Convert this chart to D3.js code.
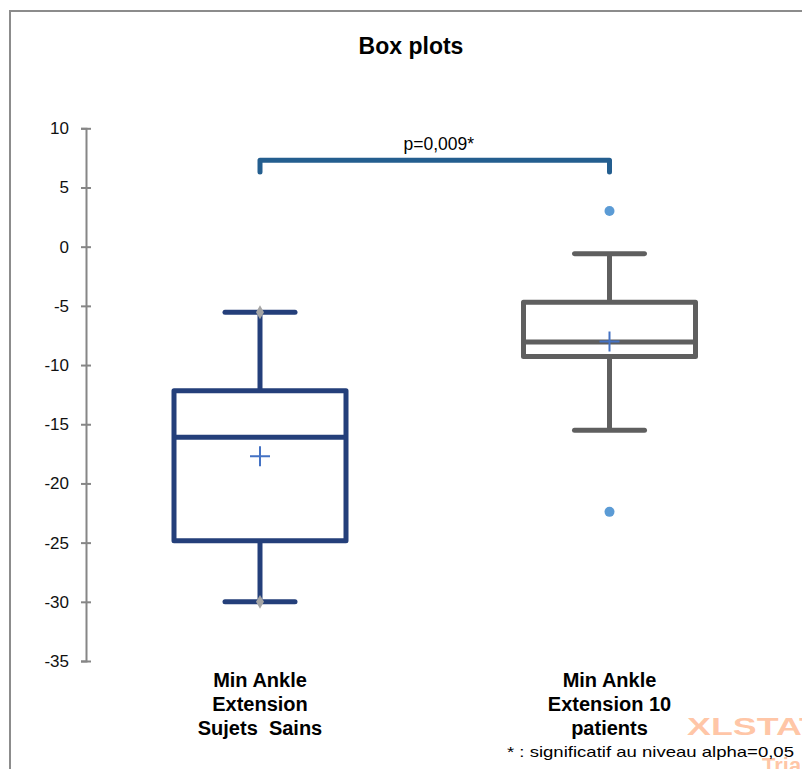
<!DOCTYPE html>
<html>
<head>
<meta charset="utf-8">
<script src="https://cdn.jsdelivr.net/npm/d3@7"></script>
<style>
  html, body { margin: 0; padding: 0; background: #fff; }
  svg { display: block; font-family: Arial, "Liberation Sans", sans-serif; }
</style>
</head>
<body>
<svg id="chart" width="802" height="769"></svg>
<script>
// ---- data ----
const categories = ["Min Ankle Extension Sujets Sains", "Min Ankle Extension 10 patients"];
const labelLines = [["Min Ankle", "Extension", "Sujets  Sains"], ["Min Ankle", "Extension 10", "patients"]];
const q1Values = [-24.85, -9.27];
const medianValues = [-16.1, -8.05];
const q3Values = [-12.16, -4.7];
const whiskerLow = [-30.0, -15.5];
const whiskerHigh = [-5.54, -0.59];
const meanValues = [-17.7, -8.0];
const minMaxPoints = [[-30.0, -5.54], []];
const outlierPoints = [[], [3.02, -22.4]];
const yTicks = [10, 5, 0, -5, -10, -15, -20, -25, -30, -35];
const boxColors = ["#243F7A", "#5F5F5F"];
const titleText = "Box plots";
const pText = "p=0,009*";
const bracketValues = [7.3, 6.3];
const footnoteText = "* : significatif au niveau alpha=0,05";

// ---- drawing ----
const svg = d3.select("#chart");

// outer frame
svg.append("rect")
  .attr("x", 10).attr("y", 11).attr("width", 900).attr("height", 900)
  .attr("fill", "none").attr("stroke", "#8c8c8c").attr("stroke-width", 2);

const y = d3.scaleLinear().domain([-35, 10]).range([661, 128.3]);
const x = d3.scalePoint().domain(categories).range([260, 609.5]);

// title
svg.append("text").attr("x", 411).attr("y", 54)
  .attr("text-anchor", "middle").attr("font-weight", "bold").attr("font-size", 23)
  .attr("fill", "#000").text(titleText);

// y axis
const axisG = svg.append("g").attr("transform", "translate(86,0)")
  .call(d3.axisLeft(y).tickValues(yTicks).tickSize(5).tickFormat(d3.format("d")));
axisG.select(".domain").attr("stroke", "#868686").attr("stroke-width", 2);
axisG.selectAll(".tick line").attr("stroke", "#868686").attr("stroke-width", 2)
  .attr("x1", 5).attr("x2", -5);
axisG.selectAll(".tick text").attr("x", -17).attr("font-size", 17)
  .attr("font-family", "Arial, 'Liberation Sans', sans-serif").attr("fill", "#111")
  .text(d => d < 0 ? "-" + Math.abs(d) : d);

const boxHalf = 86, capHalf = 35, lw = 5;

categories.forEach((c, i) => {
  const cx = x(c);
  const col = boxColors[i];
  const g = svg.append("g");
  // whiskers
  g.append("line").attr("x1", cx).attr("x2", cx)
    .attr("y1", y(q3Values[i])).attr("y2", y(whiskerHigh[i]))
    .attr("stroke", col).attr("stroke-width", lw);
  g.append("line").attr("x1", cx).attr("x2", cx)
    .attr("y1", y(q1Values[i])).attr("y2", y(whiskerLow[i]))
    .attr("stroke", col).attr("stroke-width", lw);
  [whiskerHigh[i], whiskerLow[i]].forEach(v => {
    g.append("line").attr("x1", cx - capHalf).attr("x2", cx + capHalf)
      .attr("y1", y(v)).attr("y2", y(v))
      .attr("stroke", col).attr("stroke-width", lw).attr("stroke-linecap", "round");
  });
  // box
  g.append("rect").attr("x", cx - boxHalf).attr("width", boxHalf * 2)
    .attr("y", y(q3Values[i])).attr("height", y(q1Values[i]) - y(q3Values[i]))
    .attr("fill", "none").attr("stroke", col).attr("stroke-width", lw)
    .attr("stroke-linejoin", "round");
  // median
  g.append("line").attr("x1", cx - boxHalf).attr("x2", cx + boxHalf)
    .attr("y1", y(medianValues[i])).attr("y2", y(medianValues[i]))
    .attr("stroke", col).attr("stroke-width", lw);
  // mean plus
  const my = y(meanValues[i]);
  g.append("path").attr("d", `M${cx - 10},${my}H${cx + 10}M${cx},${my - 10}V${my + 10}`)
    .attr("stroke", "#4472C4").attr("stroke-width", 2).attr("fill", "none");
  // min/max markers
  minMaxPoints[i].forEach(v => {
    g.append("path").attr("d", d3.symbol(d3.symbolDiamond, 55)())
      .attr("transform", `translate(${cx},${y(v)})`).attr("fill", "#A5A5A5");
  });
  // outliers
  outlierPoints[i].forEach(v => {
    g.append("circle").attr("cx", cx).attr("cy", y(v)).attr("r", 5).attr("fill", "#5B9BD5");
  });
  // category label
  const t = svg.append("text").attr("text-anchor", "middle").attr("font-weight", "bold")
    .attr("font-size", 20).attr("fill", "#000");
  labelLines[i].forEach((ln, k) => {
    t.append("tspan").attr("x", cx).attr("y", 687 + k * 24).attr("xml:space", "preserve").text(ln);
  });
});

// significance bracket
const bx1 = x(categories[0]), bx2 = x(categories[1]);
svg.append("path")
  .attr("d", `M${bx1},${y(bracketValues[1])}V${y(bracketValues[0])}H${bx2}V${y(bracketValues[1])}`)
  .attr("fill", "none").attr("stroke", "#245E8F").attr("stroke-width", 5)
  .attr("stroke-linecap", "round").attr("stroke-linejoin", "round");
svg.append("text").attr("x", (bx1 + bx2) / 2 + 4).attr("y", 150)
  .attr("text-anchor", "middle").attr("font-size", 17.5).attr("fill", "#000").text(pText);

// watermark
svg.append("text").attr("x", 687).attr("y", 735).attr("font-size", 24).attr("font-weight", "bold")
  .attr("fill", "#FF9F6B").attr("fill-opacity", 0.6)
  .attr("textLength", 134).attr("lengthAdjust", "spacingAndGlyphs").text("XLSTAT");
svg.append("text").attr("x", 762).attr("y", 773).attr("font-size", 22).attr("font-weight", "bold")
  .attr("fill", "#FF9F6B").attr("fill-opacity", 0.6).text("Trial");

// footnote
svg.append("text").attr("x", 507).attr("y", 757).attr("font-size", 14.5).attr("fill", "#000")
  .attr("textLength", 287).attr("lengthAdjust", "spacingAndGlyphs").text(footnoteText);
</script>
</body>
</html>
